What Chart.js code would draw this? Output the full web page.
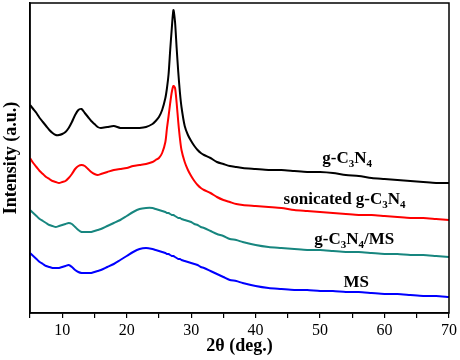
<!DOCTYPE html>
<html>
<head>
<meta charset="utf-8">
<script src="https://cdn.jsdelivr.net/npm/chart.js@4"></script>
<style>
  html, body { margin: 0; padding: 0; background: #fff; }
  #wrap { width: 460px; height: 360px; }
</style>
</head>
<body>
<div id="wrap"><canvas id="xrd" width="460" height="360"></canvas></div>
<script>
// 2θ positions (deg.) shared by the four patterns
const twoTheta = [5,5.5,6,6.5,7,7.5,8,8.5,9,9.5,10,10.5,11,11.5,12,12.5,13,13.5,14,14.5,15,15.5,16,
  17,18,19,20,21,22,23,24,24.5,25,25.5,26,26.25,26.5,26.75,27,27.25,27.5,27.75,28,28.25,28.5,
  29,29.5,30,30.5,31,31.5,32,33,34,35,36,37,38,40,42,44,46,48,50,52,54,56,58,60,62,64,66,68,70];

// intensities (a.u., stacked as in the figure)
const gC3N4 = [208,204,200,195,191,187,183,180,178,178,179,181,185,191,198,203,204,200,196,192,189,186,185,
  186,187,185,185,185,185,186,189,192,196,203,215,225,239,263,285,303,291,265,241,221,206,
  187,178,172,167,163,160,158,155,151,149,147,146,145,144,143,143,142,141,141,140,138,137,135,134,133,132,131,130,130];
const sonicated = [155,150,146,142,139,136,134,132,131,130,131,132,135,139,144,147,148,147,144,141,139,138,139,
  141,143,144,145,147,148,149,151,153,155,160,171,185,197,210,221,227,225,210,191,175,163,
  151,143,137,132,128,125,123,120,116,113,111,109,108,107,106,105,103,102,101,100,99,98,98,97,96,95,95,94,93];
const gC3N4MS = [103,100,97,94,92,90,88,87,86,87,88,89,90,89,86,83,81,81,81,81,82,83,84,
  87,90,93,97,101,104,105,105,104,103,102,101,100,100,99,98,98,97,96,95,95,94,
  93,92,91,89,88,86,85,82,79,77,74,73,71,68,66,65,64,63,63,62,61,61,60,59,59,58,58,57,56];
const MS = [60,57,54,51,49,47,46,45,45,45,46,47,48,46,43,41,40,40,40,40,41,42,43,
  46,49,53,57,61,64,65,64,63,62,61,60,59,59,58,57,57,56,55,54,54,53,
  52,51,50,49,48,46,45,42,39,36,33,32,30,27,25,24,23,23,22,22,21,21,20,19,19,18,17,17,16];

const seriesNames = ['g-C3N4', 'sonicated g-C3N4', 'g-C3N4/MS', 'MS'];
const seriesColors = ['#000000', '#ff0000', '#17867f', '#0000ff'];

const serif = "'Liberation Serif', 'Times New Roman', serif";

// curve labels with subscripts: [text, subscript?] pieces, anchored in data coords
const curveLabels = [
  { x: 54.2, y: 156, parts: [['g-C',0],['3',1],['N',0],['4',1]] },
  { x: 53.8, y: 115, parts: [['sonicated g-C',0],['3',1],['N',0],['4',1]] },
  { x: 55.3, y: 75, parts: [['g-C',0],['3',1],['N',0],['4',1],['/MS',0]] },
  { x: 55.6, y: 32, parts: [['MS',0]] }
];

const framePlugin = {
  id: 'frame',
  afterDraw(chart) {
    const { ctx, chartArea: a, scales } = chart;
    ctx.save();
    ctx.strokeStyle = '#000';
    ctx.lineWidth = 1.5;
    ctx.strokeRect(a.left, a.top, a.right - a.left, a.bottom - a.top);

    ctx.fillStyle = '#000';
    ctx.textBaseline = 'alphabetic';
    curveLabels.forEach(l => {
      const big = 'bold 17px ' + serif;
      const small = 'bold 11px ' + serif;
      let w = 0;
      l.parts.forEach(p => { ctx.font = p[1] ? small : big; w += ctx.measureText(p[0]).width; });
      let px = scales.x.getPixelForValue(l.x) - w / 2;
      const py = scales.y.getPixelForValue(l.y) + 6;
      l.parts.forEach(p => {
        ctx.font = p[1] ? small : big;
        ctx.fillText(p[0], px, p[1] ? py + 4 : py);
        px += ctx.measureText(p[0]).width;
      });
    });
    ctx.restore();
  }
};

const datasets = [gC3N4, sonicated, gC3N4MS, MS].map((vals, i) => ({
  label: seriesNames[i],
  data: twoTheta.map((t, k) => ({ x: t, y: vals[k] })),
  borderColor: seriesColors[i],
  borderWidth: 2,
  pointRadius: 0,
  tension: 0.25,
  fill: false
}));

new Chart(document.getElementById('xrd'), {
  type: 'line',
  data: { datasets },
  plugins: [framePlugin],
  options: {
    responsive: false,
    animation: false,
    layout: { padding: { top: 3, right: 10, left: 0, bottom: 0 } },
    plugins: { legend: { display: false }, tooltip: { enabled: false } },
    scales: {
      x: {
        type: 'linear',
        min: 5, max: 70,
        afterFit: s => { s.height = 47; },
        border: { color: '#000', width: 1.5 },
        grid: { drawOnChartArea: false, tickLength: 5, color: '#000', lineWidth: 1.2 },
        ticks: {
          stepSize: 5,
          padding: 3,
          color: '#000',
          font: { family: serif, size: 16 },
          maxRotation: 0,
          autoSkip: false,
          callback: v => (v % 10 === 0 ? v : '')
        },
        title: {
          display: true,
          text: '2θ (deg.)',
          color: '#000',
          font: { family: serif, size: 18, weight: 'bold' },
          padding: { bottom: 3 }
        }
      },
      y: {
        min: 0, max: 310,
        afterFit: s => { s.width = 30; },
        border: { color: '#000', width: 1.5 },
        grid: { display: false },
        ticks: { display: false },
        title: {
          display: true,
          text: 'Intensity (a.u.)',
          color: '#000',
          font: { family: serif, size: 18, weight: 'bold' },
          padding: { top: 1 }
        }
      }
    }
  }
});
</script>
</body>
</html>
